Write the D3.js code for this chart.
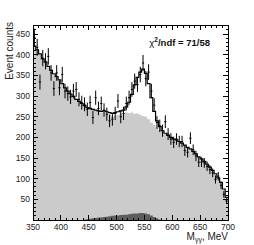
<!DOCTYPE html>
<html><head><meta charset="utf-8">
<script src="https://cdn.jsdelivr.net/npm/d3@7"></script>
<style>body{margin:0;background:#fff}svg{display:block}text{font-family:"Liberation Sans",Arial,sans-serif}</style>
</head><body>
<script>
const binLow = 350, binWidth = 5;
const dataCounts = [442,418,334,392,384,396,356,318,356,320,352,312,306,298,312,316,292,284,280,268,
 284,248,296,270,282,266,256,240,244,258,288,250,258,282,296,316,336,328,352,380,
 342,358,312,278,236,228,216,238,208,196,188,196,190,190,168,164,198,170,155,140,
 140,138,130,122,114,98,106,84,62,46];
const background = [418,410,400,388,380,370,360,352,345,337,328,318,310,303,297,290,285,280,275,270,
 268,266,264,262,260,261,258,255,252,253,255,258,257,260,259,260,257,258,255,252,
 250,244,236,230,224,218,213,208,204,199,195,193,189,185,180,175,171,165,159,152,
 147,141,134,127,119,111,101,90,74,54];
const fitLine = [421,412,402,390,382,372,362,354,347,339,330,320,312,305,299,292,287,282,277,272,
 270,268,266,264,263,264,262,260,258,260,262,264,266,274,285,304,327,345,358,365,
 355,330,296,263,240,226,216,210,205,200,196,194,190,186,181,176,172,166,160,153,
 148,142,135,128,120,112,102,91,75,55];
const darkComponent = [0,0,0,0,0,0,0,0,0,0,0,0,0,0,0,0,0,0,1,2,
 3,4,5,6,6,7,8,9,10,11,11,12,13,13,14,15,16,16,17,17,
 16,14,11,7,4,1,0,0,0,0,0,0,0,0,0,0,0,0,0,0,
 0,0,0,0,0,0,0,0,0,0];
const xTicks = [350,400,450,500,550,600,650,700];
const yTicks = [50,100,150,200,250,300,350,400,450];
const fitLabel = "/ndf = 71/58";

const W = 254, H = 245;
const L = 33, R = 228, T = 25, B = 220;
const svg = d3.select("body").append("svg").attr("width", W).attr("height", H);
const x = d3.scaleLinear().domain([350, 700]).range([L, R]);
const y = d3.scaleLinear().domain([0, 472]).range([B, T]);

const bins = dataCounts.map((v, i) => ({lo: binLow + i*binWidth, hi: binLow + (i+1)*binWidth, v, bg: background[i], fit: fitLine[i], dk: darkComponent[i]}));

// light grey background area (histogram)
const stepPts = (acc) => { const p = []; bins.forEach(b => { p.push([b.lo, acc(b)]); p.push([b.hi, acc(b)]); }); return p; };
const area = d3.area().x(d => x(d[0])).y0(y(0)).y1(d => y(d[1]));
svg.append("path").attr("d", area(stepPts(b => b.bg))).attr("fill", "#cbcbcb");
svg.append("path").attr("d", area(stepPts(b => b.dk))).attr("fill", "#5e5e5e");

// fit line
const line = d3.line().x(d => x(d[0])).y(d => y(d[1]));
svg.append("path").attr("d", line(stepPts(b => b.fit))).attr("fill", "none").attr("stroke", "#000").attr("stroke-width", 1.2);

// data points with error bars
const g = svg.append("g").attr("stroke", "#000").attr("stroke-width", 1);
bins.forEach(b => {
  const cx = x((b.lo + b.hi)/2), e = Math.sqrt(b.v);
  g.append("line").attr("x1", cx).attr("x2", cx).attr("y1", y(b.v - e)).attr("y2", y(b.v + e));
  g.append("line").attr("x1", x(b.lo) + 0.3).attr("x2", x(b.hi) - 0.3).attr("y1", y(b.v)).attr("y2", y(b.v));
});

// axes (ROOT style, ticks inward on all sides)
const axG = svg.append("g").attr("stroke", "#000").attr("stroke-width", 1).attr("shape-rendering", "crispEdges");
axG.append("rect").attr("x", L).attr("y", T).attr("width", R-L).attr("height", B-T).attr("fill", "none");
d3.range(350, 701, 10).forEach(v => {
  const len = v % 50 === 0 ? 5 : 2.5;
  axG.append("line").attr("x1", x(v)).attr("x2", x(v)).attr("y1", B).attr("y2", B-len);
  axG.append("line").attr("x1", x(v)).attr("x2", x(v)).attr("y1", T).attr("y2", T+len);
});
d3.range(0, 471, 10).forEach(v => {
  const len = v % 50 === 0 ? 5 : 2.5;
  axG.append("line").attr("x1", L).attr("x2", L+len).attr("y1", y(v)).attr("y2", y(v));
  axG.append("line").attr("x1", R).attr("x2", R-len).attr("y1", y(v)).attr("y2", y(v));
});
svg.append("g").selectAll("text").data(xTicks).join("text")
  .attr("x", d => x(d)).attr("y", 230).attr("text-anchor", "middle").attr("font-size", 8.5).attr("fill", "#222").text(d => d);
svg.append("g").selectAll("text").data(yTicks).join("text")
  .attr("x", 30).attr("y", d => y(d) + 3).attr("text-anchor", "end").attr("font-size", 8.5).attr("fill", "#222").text(d => d);

// axis titles
svg.append("text").attr("transform", "translate(13,22) rotate(-90)").attr("text-anchor", "end")
  .attr("font-size", 10).attr("fill", "#222").text("Event counts");
const xt = svg.append("text").attr("x", 228).attr("y", 240).attr("text-anchor", "end").attr("font-size", 10).attr("fill", "#222");
xt.append("tspan").text("M");
xt.append("tspan").attr("font-size", 7).attr("dy", 2).text("γγ");
xt.append("tspan").attr("dy", -2).text(", MeV");

const ct = svg.append("text").attr("x", 210).attr("y", 46).attr("text-anchor", "end").attr("font-size", 9.5).attr("font-weight", "bold").attr("fill", "#111");
ct.append("tspan").attr("font-weight", "normal").text("χ");
ct.append("tspan").attr("font-size", 6.5).attr("dy", -4).text("2");
ct.append("tspan").attr("dy", 4).text(fitLabel);
</script>
</body></html>
